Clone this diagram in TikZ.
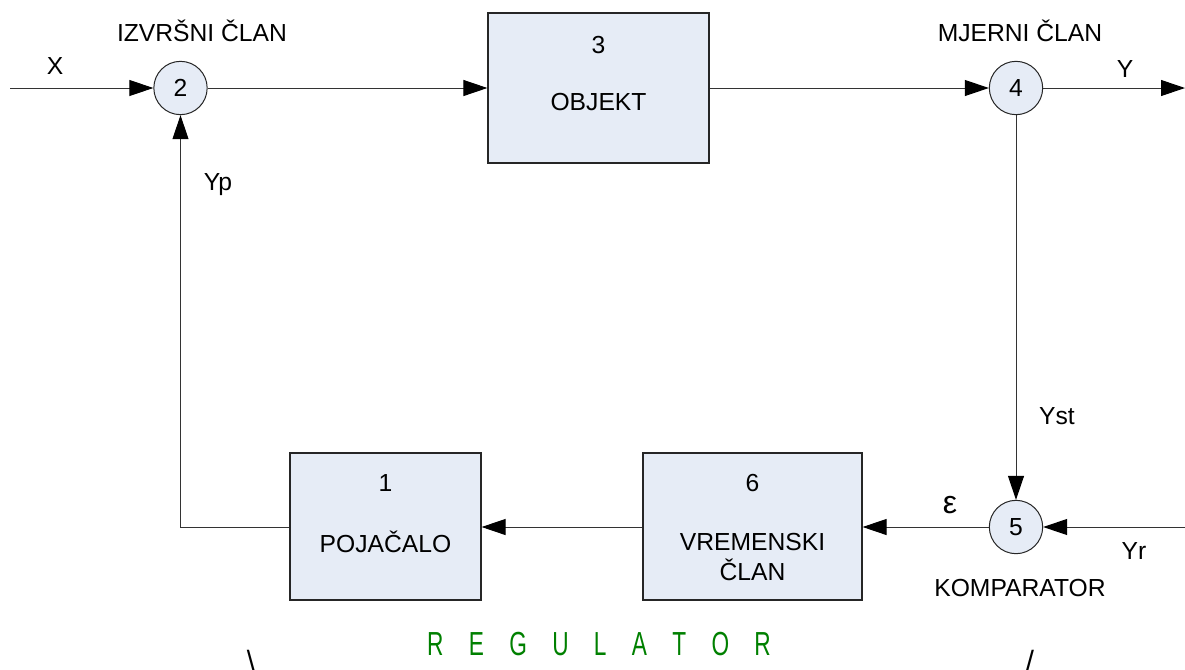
\documentclass[tikz,border=0pt]{standalone}
\usepackage{fontspec}
\usepackage{graphicx}
\setmainfont{Liberation Sans}
\newfontfamily\regfont[FakeStretch=0.68]{Liberation Sans}
\usetikzlibrary{arrows.meta}
\definecolor{boxfill}{HTML}{E6ECF6}
\definecolor{reggreen}{HTML}{008000}
\begin{document}
\begin{tikzpicture}[x=0.75pt,y=-0.75pt,
  font=\fontsize{18.5}{22}\selectfont,
  blk/.style={draw=black!85, fill=boxfill, line width=0.9pt, inner sep=0pt},
  sumnode/.style={circle, draw=black!85, fill=boxfill, line width=0.75pt, minimum size=40pt, inner sep=0pt},
  conn/.style={draw=black!80, line width=0.75pt, -{Triangle[length=18pt,width=12pt,color=black]}},
  lbl/.style={inner sep=0pt, anchor=center}]
\clip (0,0) rectangle (1185,669);
\path[use as bounding box] (0,0) rectangle (1185,669);
% blocks
\node[blk, minimum width=165.75pt, minimum height=112.5pt] (b3) at (598.5,88) {};
\node[blk, minimum width=143.25pt, minimum height=110.25pt] (b1) at (385.5,526.5) {};
\node[blk, minimum width=164.25pt, minimum height=110.25pt] (b6) at (752.5,526.5) {};
% summing nodes
\node[sumnode] (s2) at (180.5,88) {2};
\node[sumnode] (s4) at (1016,88) {4};
\node[sumnode] (s5) at (1016,527) {5};
% block texts
\node[lbl] (t3n) at (598.5,45) {3};
\node[lbl] (t3) at (598.5,102) {OBJEKT};
\node[lbl] (t1n) at (385.5,483) {1};
\node[lbl] (t1) at (385.5,542) {POJAČALO};
\node[lbl] (t6n) at (752.5,483) {6};
\node[lbl, align=center] (t6) at (752.5,557) {VREMENSKI\\[0pt]ČLAN};
% free ends
\coordinate (xin) at (10,88);
\coordinate (yout) at (1185,88);
\coordinate (yrin) at (1185,527);
% connectors
\draw[conn] (xin) -- (s2.west);
\draw[conn] (s2.east) -- (b3.west |- s2.east);
\draw[conn] (b3.east |- s4.west) -- (s4.west);
\draw[conn] (s4.east) -- (yout);
\draw[conn] (s4.south) -- (s5.north);
\draw[conn] (yrin) -- (s5.east);
\draw[conn] (s5.west) -- (s5.west -| b6.east);
\draw[conn] (b6.west |- s5.west) -- (s5.west -| b1.east);
\draw[conn] (b1.west |- s5.west) -| (s2.south);
% labels
\node[lbl] (lx) at (55,66) {X};
\node[lbl] (liz) at (202,31) {IZVRŠNI ČLAN};
\node[lbl] (lmj) at (1020,31) {MJERNI ČLAN};
\node[lbl] (ly) at (1125,69) {Y};
\node[lbl] (lyp) at (218,185) {Yp};
\node[lbl] (lyst) at (1057,416) {Yst};
\node[lbl] (lyr) at (1134,551) {Yr};
\node[lbl] (lkomp) at (1020,588) {KOMPARATOR};
\node[lbl, font=\fontsize{24}{28}\selectfont] (leps) at (950,505) {ε};
\node[lbl, text=reggreen, font=\regfont\fontsize{25}{30}\selectfont] (lreg) at (599,644) {\spaceskip=19pt\relax R E G U L A T O R};
\node[lbl, font=\fontsize{22}{26}\selectfont, anchor=north] (lbs) at (251,650) {\textbackslash};
\node[lbl, font=\fontsize{22}{26}\selectfont, anchor=north] (lsl) at (1030,650) {/};
\end{tikzpicture}
\end{document}
